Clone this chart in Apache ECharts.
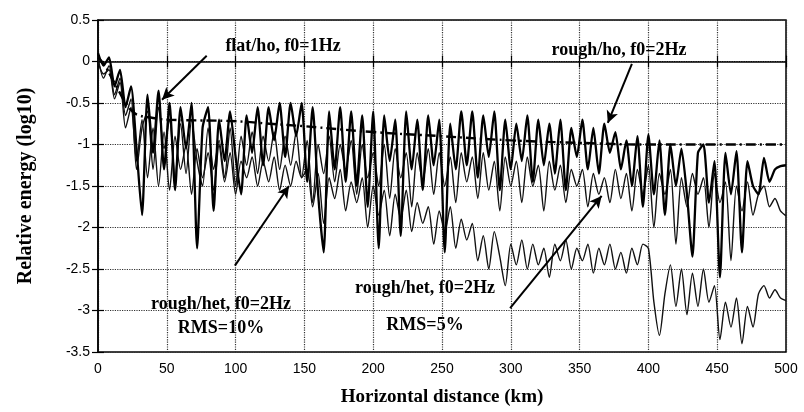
<!DOCTYPE html>
<html>
<head>
<meta charset="utf-8">
<script src="https://cdn.jsdelivr.net/npm/echarts@6/dist/echarts.min.js"></script>
<style>
  html, body { margin: 0; padding: 0; background: #fff; }
  #chart { width: 804px; height: 412px; }
</style>
</head>
<body>
<div id="chart"></div>
<script>
// horizontal distance (km) for the noisy curves
const dist = [
  0, 4, 8, 12, 16, 20, 24, 28, 32, 36, 40, 44, 48, 52, 56, 60, 64, 68, 72, 76,
  80, 84, 88, 92, 96, 100, 104, 108, 112, 116, 120, 124, 128, 132, 136, 140, 144, 148, 152, 156,
  160, 164, 168, 172, 176, 180, 184, 188, 192, 196, 200, 204, 208, 212, 216, 220, 224, 228, 232, 236,
  240, 244, 248, 252, 256, 260, 264, 268, 272, 276, 280, 284, 288, 292, 296, 300, 304, 308, 312, 316,
  320, 324, 328, 332, 336, 340, 344, 348, 352, 356, 360, 364, 368, 372, 376, 380, 384, 388, 392, 396,
  400, 404, 408, 412, 416, 420, 424, 428, 432, 436, 440, 444, 448, 452, 456, 460, 464, 468, 472, 476,
  480, 484, 488, 492, 496, 500
];

// rough/ho, f0=2Hz
const roughHo = [
  0.1, -0.05, 0.05, -0.3, -0.1, -0.55, -0.3, -1.05, -1.85, -0.4, -1.1, -0.35, -1.3, -0.5, -1.55, -0.55, -1.05, -0.5, -2.25, -0.8,
  -0.55, -1.8, -0.7, -1.2, -0.6, -1.15, -1.6, -0.65, -1.1, -0.55, -1.25, -0.55, -0.95, -0.5, -1.15, -0.5, -0.9, -0.5, -1.45, -0.55,
  -1.6, -2.3, -0.6, -1.3, -0.55, -1.45, -0.6, -1.5, -0.65, -1.75, -0.6, -2.25, -0.65, -1.2, -0.7, -2.1, -0.6, -1.3, -0.7, -1.55,
  -0.65, -1.25, -0.7, -2.3, -0.75, -1.3, -0.6, -1.25, -0.6, -1.4, -0.65, -1.15, -0.6, -1.55, -0.7, -1.3, -0.75, -1.2, -0.65, -1.45,
  -0.7, -1.25, -0.75, -1.35, -0.7, -1.55, -0.8, -1.15, -0.7, -1.3, -0.8, -1.35, -0.75, -1.1, -0.85, -1.3, -0.95, -1.5, -0.9, -1.75,
  -0.88, -1.6, -0.95, -1.85, -1.0, -1.5, -1.05, -1.6, -2.35, -1.1, -1.0, -1.7, -1.2, -2.6, -1.1, -1.6, -1.08, -2.3, -1.2, -1.5,
  -1.6, -1.16, -1.45, -1.3, -1.26, -1.25
];

// rough/het, f0=2Hz, RMS=5%
const roughHet5 = [
  0.05, -0.2, -0.05, -0.4, -0.2, -0.65, -0.45, -1.3, -0.8, -0.6, -1.3, -0.55, -1.05, -0.7, -1.4, -0.75, -1.35, -0.7, -1.2, -1.5,
  -0.8, -1.3, -0.95, -1.4, -0.8, -1.5, -0.9, -1.25, -0.85, -1.35, -0.9, -1.2, -0.85, -1.3, -0.9, -1.25, -0.85, -1.4, -0.95, -1.7,
  -1.0, -1.35, -0.9, -1.45, -1.0, -1.3, -0.95, -1.6, -1.0, -1.4, -1.1, -1.5, -1.0, -1.65, -1.05, -1.4, -1.1, -1.75, -1.1, -1.45,
  -1.05, -1.6, -1.1, -1.5, -1.15, -1.7, -1.1, -1.45, -1.15, -1.65, -1.1, -1.55, -1.2, -1.8, -1.15, -1.5, -1.2, -1.7, -1.15, -1.5,
  -1.25, -1.8, -1.2, -1.55, -1.25, -1.7, -1.3, -1.5, -1.3, -1.75, -1.35, -1.6, -1.4, -1.7, -1.3, -1.65, -1.35, -1.8, -1.3, -1.6,
  -1.25, -2.0, -1.35, -1.6, -1.3, -2.2, -1.4, -1.75, -1.35, -1.6, -1.4, -2.0, -1.35, -1.7, -1.45, -2.4, -1.5, -1.8, -1.45, -1.85,
  -1.6, -1.5, -1.75, -1.65, -1.8, -1.86
];

// rough/het, f0=2Hz, RMS=10%
const roughHet10 = [
  0.0, -0.15, -0.1, -0.45, -0.25, -0.8, -0.55, -1.2, -0.7, -1.4, -0.8, -1.5, -0.85, -1.55, -0.9, -1.3, -1.0, -1.6, -1.05, -1.4,
  -1.1, -1.55, -1.0, -1.45, -1.1, -1.6, -1.2, -1.4, -1.15, -1.5, -1.2, -1.45, -1.15, -1.55, -1.25, -1.5, -1.2, -1.4, -1.3, -1.75,
  -1.35, -1.95, -1.4, -1.65, -1.3, -1.8, -1.45, -1.7, -1.4, -2.0, -1.5, -1.85, -1.55, -2.1, -1.6, -1.9, -1.55, -2.05, -1.7, -1.95,
  -1.75, -2.2, -1.8, -2.05, -1.75, -2.25, -1.9, -2.15, -1.95, -2.4, -2.1, -2.5, -2.05, -2.35, -2.7, -2.2, -2.45, -2.15, -2.5, -2.2,
  -2.45, -2.25, -2.6, -2.2, -2.4, -2.15, -2.5, -2.25, -2.4, -2.2, -2.55, -2.25, -2.45, -2.2, -2.5, -2.3, -2.55, -2.25, -2.45, -2.2,
  -2.25, -2.9, -3.3, -2.8, -2.45, -2.95, -2.5, -3.05, -2.55, -2.95, -2.5, -2.9, -2.7, -3.35, -2.9, -3.2, -2.85, -3.4, -2.95, -3.2,
  -2.8, -2.7, -2.85, -2.75, -2.85, -2.88
];

// flat/ho, f0=1Hz (smooth reference curve)
const flatDist = [0, 5, 10, 15, 20, 25, 30, 40, 50, 75, 100, 125, 150, 200, 250, 300, 350, 400, 450, 500];
const flatHo = [0.05, -0.05, -0.2, -0.35, -0.5, -0.6, -0.65, -0.68, -0.7, -0.71, -0.72, -0.75, -0.78, -0.85, -0.9, -0.95, -0.98, -1.0, -1.0, -1.0];

// annotation arrows in data coords: [x1, y1, x2, y2]
const arrows = [
  [79, 0.07, 46.5, -0.46],
  [388, -0.03, 370.5, -0.74],
  [99.5, -2.46, 138.8, -1.5],
  [299.5, -2.97, 366, -1.62]
];

const pairs = (xs, ys) => xs.map((x, i) => [x, ys[i]]);

const chart = echarts.init(document.getElementById('chart'));

const serif = '"Liberation Serif", "DejaVu Serif", serif';
const sans = '"Liberation Sans", Arial, sans-serif';
const dots = { color: '#333', width: 1.2, type: 'dotted' };

const noteText = (txt, x, y) => ({
  type: 'text',
  x: x, y: y,
  style: {
    text: txt,
    font: 'bold 18px ' + serif,
    fill: '#000',
    textAlign: 'center',
    textVerticalAlign: 'middle'
  }
});

chart.setOption({
  backgroundColor: '#fff',
  animation: false,
  grid: {
    left: 98, right: 18, top: 20, bottom: 58,
    show: true, borderColor: '#000', borderWidth: 1.5, backgroundColor: 'transparent'
  },
  xAxis: [
    {
      type: 'value', min: 0, max: 500, interval: 50,
      name: 'Horizontal distance (km)', nameLocation: 'middle', nameGap: 36,
      nameTextStyle: { fontFamily: serif, fontWeight: 'bold', fontSize: 19, color: '#000' },
      axisLine: { lineStyle: { color: '#000', width: 1.5 } },
      axisTick: { inside: true, length: 6, lineStyle: { color: '#000', width: 1.2 } },
      axisLabel: { fontFamily: sans, fontSize: 14, color: '#000', margin: 10 },
      splitLine: { show: true, lineStyle: dots }
    },
    {
      type: 'value', position: 'top', min: 0, max: 500, interval: 50,
      axisLine: { show: false },
      axisTick: { inside: true, length: 6, lineStyle: { color: '#000', width: 1.2 } },
      axisLabel: { show: false },
      splitLine: { show: false }
    }
  ],
  yAxis: [
    {
      type: 'value', min: -3.5, max: 0.5, interval: 0.5,
      name: 'Relative energy (log10)', nameLocation: 'middle', nameGap: 62,
      nameTextStyle: { fontFamily: serif, fontWeight: 'bold', fontSize: 20, color: '#000' },
      axisLine: { show: true, lineStyle: { color: '#000', width: 1.5 } },
      axisTick: { show: true, inside: true, length: 6, lineStyle: { color: '#000', width: 1.2 } },
      axisLabel: { fontFamily: sans, fontSize: 14, color: '#000', margin: 8 },
      splitLine: { show: true, lineStyle: dots }
    },
    {
      type: 'value', position: 'right', min: -3.5, max: 0.5, interval: 0.5,
      axisLine: { show: false },
      axisTick: { show: true, inside: true, length: 6, lineStyle: { color: '#000', width: 1.2 } },
      axisLabel: { show: false },
      splitLine: { show: false }
    }
  ],
  series: [
    {
      name: 'rough/het, RMS=10%', type: 'line', data: pairs(dist, roughHet10),
      showSymbol: false, smooth: 0.25, lineStyle: { color: '#111', width: 1.4 }
    },
    {
      name: 'rough/het, RMS=5%', type: 'line', data: pairs(dist, roughHet5),
      showSymbol: false, smooth: 0.25, lineStyle: { color: '#111', width: 1.4 }
    },
    {
      name: 'rough/ho', type: 'line', data: pairs(dist, roughHo),
      showSymbol: false, smooth: 0.2, lineStyle: { color: '#000', width: 2.3 }
    },
    {
      name: 'flat/ho', type: 'line', data: pairs(flatDist, flatHo),
      showSymbol: false, smooth: true,
      lineStyle: { color: '#000', width: 2.4, type: [10, 4, 2, 4] },
      markLine: {
        silent: true,
        symbol: ['none', 'arrow'],
        symbolSize: [9, 12],
        label: { show: false },
        lineStyle: { color: '#000', width: 2, type: 'solid' },
        data: arrows.map(a => [{ coord: [a[0], a[1]] }, { coord: [a[2], a[3]] }])
      }
    }
  ],
  graphic: [
    noteText('flat/ho, f0=1Hz', 283, 46),
    noteText('rough/ho, f0=2Hz', 619, 50),
    noteText('rough/het, f0=2Hz', 221, 304),
    noteText('RMS=10%', 221, 328),
    noteText('rough/het, f0=2Hz', 425, 288),
    noteText('RMS=5%', 425, 325)
  ]
});
</script>
</body>
</html>
